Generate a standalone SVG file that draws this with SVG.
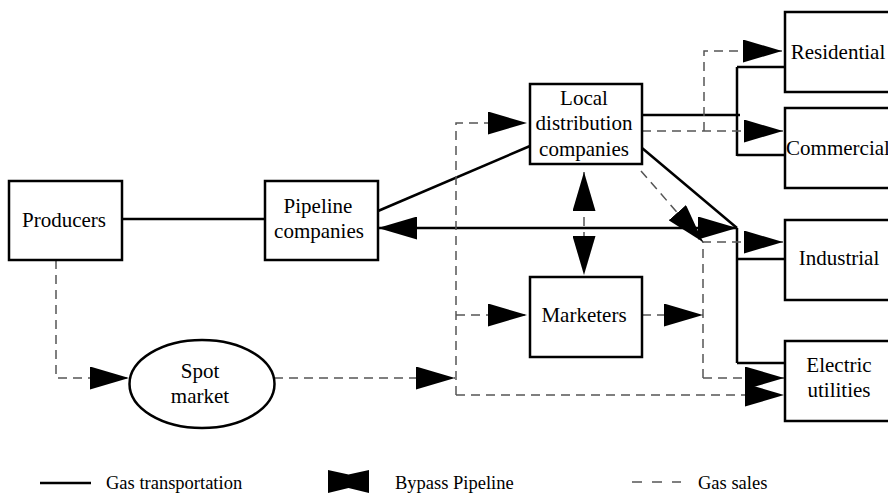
<svg xmlns="http://www.w3.org/2000/svg" width="888" height="493" viewBox="0 0 888 493">
<style>
.box{fill:#fff;stroke:#000;stroke-width:2.5}
.t{font-family:'Liberation Serif','DejaVu Serif',serif;font-size:21px;fill:#000;text-anchor:middle}
.lg{font-family:'Liberation Serif','DejaVu Serif',serif;font-size:18.5px;fill:#000}
.solid{fill:none;stroke:#000;stroke-width:2.5}
.dash{fill:none;stroke:#555;stroke-width:1.5;stroke-dasharray:9 6}
</style>
<defs>
<marker id="ah" markerUnits="userSpaceOnUse" viewBox="0 0 40 23" markerWidth="40" markerHeight="23" refX="39" refY="11.5" orient="auto-start-reverse">
<path d="M0,0 L39,11.5 L0,23 z" fill="#000"/>
</marker>
</defs>
<rect width="888" height="493" fill="#fff"/>
<g id="connectors">
<path class="solid" d="M122,219 H265"/>
<path class="solid" d="M378,211 L530,146"/>
<path class="solid" d="M642,148 L737,228"/>
<path class="solid" d="M737,228 V363 M737,259 H785 M737,363 H785"/>
<path class="solid" d="M642,115 H740 M737,67 V156 M737,67 H785 M737,155 H785"/>
<path class="solid" d="M378,228 H737" marker-start="url(#ah)" marker-end="url(#ah)"/>
<path class="dash" d="M584,172 V275" marker-start="url(#ah)" marker-end="url(#ah)"/>
<path class="dash" d="M56,260 V378 H129" marker-end="url(#ah)"/>
<path class="dash" d="M274,378 H455" marker-end="url(#ah)"/>
<path class="dash" d="M456,395 V123 H527" marker-end="url(#ah)"/>
<path class="dash" d="M456,395 H784" marker-end="url(#ah)"/>
<path class="dash" d="M456,315 H527" marker-end="url(#ah)"/>
<path class="dash" d="M642,315 H703" marker-end="url(#ah)"/>
<path class="dash" d="M703,378 V242 H783" marker-end="url(#ah)"/>
<path class="dash" d="M703,378 H784" marker-end="url(#ah)"/>
<path class="dash" d="M641,171 L703,242" marker-end="url(#ah)"/>
<path class="dash" d="M642,131 H783" marker-end="url(#ah)"/>
<path class="dash" d="M704,131 V51 H782" marker-end="url(#ah)"/>
</g>
<g id="producers"><rect class="box" x="9" y="181" width="113" height="79"/><text class="t" x="64" y="227" font-family="Liberation Serif, serif">Producers</text></g>
<g id="pipeline"><rect class="box" x="265" y="181" width="113" height="79"/><text class="t" x="318" y="213">Pipeline</text><text class="t" x="319" y="238">companies</text></g>
<g id="ldc"><rect class="box" x="530" y="84" width="112" height="80"/><text class="t" x="584" y="105">Local</text><text class="t" x="584" y="130">distribution</text><text class="t" x="584" y="155.5">companies</text></g>
<g id="marketers"><rect class="box" x="530" y="277" width="112" height="80"/><text class="t" x="584" y="321.5">Marketers</text></g>
<g id="spot"><ellipse class="box" cx="202" cy="384" rx="72.5" ry="44"/><text class="t" x="200" y="378">Spot</text><text class="t" x="200" y="403">market</text></g>
<g id="residential"><rect class="box" x="785" y="12" width="110" height="80"/><text class="t" x="838" y="58.5">Residential</text></g>
<g id="commercial"><rect class="box" x="785" y="108" width="110" height="80"/><text class="t" x="838" y="155">Commercial</text></g>
<g id="industrial"><rect class="box" x="785" y="220" width="110" height="80"/><text class="t" x="839" y="265">Industrial</text></g>
<g id="electric"><rect class="box" x="785" y="341" width="110" height="80"/><text class="t" x="839" y="372">Electric</text><text class="t" x="839" y="397">utilities</text></g>
<g id="legend">
<path d="M40,483 H91" stroke="#000" stroke-width="2.5"/>
<text class="lg" x="106" y="489">Gas transportation</text>
<polygon points="328,470 348.5,474.5 369,470 369,493 348.5,488 328,493" fill="#000"/>
<text class="lg" x="395" y="489">Bypass Pipeline</text>
<path d="M632,482 H681" stroke="#555" stroke-width="1.5" stroke-dasharray="10 10"/>
<text class="lg" x="698" y="489">Gas sales</text>
</g>
</svg>
